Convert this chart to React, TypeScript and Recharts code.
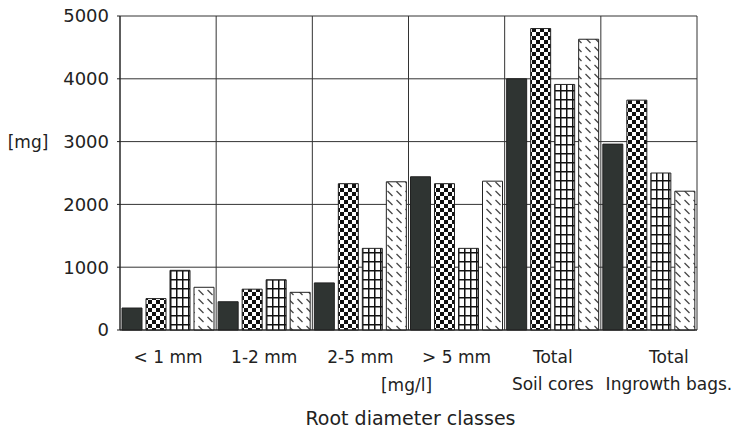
import { BarChart, Bar, XAxis, YAxis, CartesianGrid, Label } from 'recharts';

const categories = ['< 1 mm', '1-2 mm', '2-5 mm', '> 5 mm', 'Total', 'Total'];
const subLabels = ['', '', '', '', 'Soil cores', 'Ingrowth bags.'];
const solid = [350, 450, 750, 2440, 4000, 2960];
const checker = [500, 650, 2330, 2330, 4800, 3660];
const boxes = [950, 800, 1300, 1300, 3910, 2500];
const hatched = [680, 600, 2360, 2370, 4630, 2210];
const yTicks = [0, 1000, 2000, 3000, 4000, 5000];

const data = categories.map((name, i) => ({
  name,
  sub: subLabels[i],
  solid: solid[i],
  checker: checker[i],
  boxes: boxes[i],
  hatched: hatched[i],
}));

const font = '"DejaVu Sans", sans-serif';
const ink = '#222';

const CategoryTick = ({ x, y, payload, index }: any) => {
  // the last label sits a little right of its group in the original
  const dx = index === 5 ? 20 : 0;
  return (
    <g transform={`translate(${x + dx},${y})`}>
      <text x={0} y={25} textAnchor="middle" fontSize={17} fill={ink} fontFamily={font}>
        {payload.value}
      </text>
      {subLabels[index] ? (
        <text x={0} y={52} textAnchor="middle" fontSize={17} fill={ink} fontFamily={font}>
          {subLabels[index]}
        </text>
      ) : null}
    </g>
  );
};

const XTitle = ({ viewBox }: any) => {
  const cx = viewBox.x + viewBox.width / 2;
  return (
    <g fontFamily={font} fill={ink}>
      <text x={cx - 2} y={viewBox.y + 61} textAnchor="middle" fontSize={17}>
        [mg/l]
      </text>
      <text x={cx + 2} y={viewBox.y + 95} textAnchor="middle" fontSize={19}>
        Root diameter classes
      </text>
    </g>
  );
};

const YTitle = ({ viewBox }: any) => (
  <text
    x={viewBox.x + 20}
    y={viewBox.y + viewBox.height * 0.4 + 6}
    textAnchor="middle"
    fontSize={17}
    fill={ink}
    fontFamily={font}
  >
    [mg]
  </text>
);

export default function App() {
  return (
    <div style={{ marginTop: -8 }}>
      <BarChart
        width={726}
        height={436}
        data={data}
        margin={{ top: 16, right: 37, left: 0, bottom: 0 }}
        barSize={20}
        barGap={4}
      >
        <defs>
          <pattern id="checker" width="8" height="8" patternUnits="userSpaceOnUse">
            <rect width="8" height="8" fill="#fff" />
            <rect x="0" y="0" width="4" height="4" fill="#111" />
            <rect x="4" y="4" width="4" height="4" fill="#111" />
          </pattern>
          <pattern id="boxes" width="6" height="9" patternUnits="userSpaceOnUse">
            <rect width="6" height="9" fill="#fff" />
            <line x1="0.75" y1="0" x2="0.75" y2="9" stroke="#111" strokeWidth="1.5" />
            <line x1="0" y1="0.75" x2="6" y2="0.75" stroke="#111" strokeWidth="1.5" />
          </pattern>
          <pattern id="hatch" width="9" height="9" patternUnits="userSpaceOnUse">
            <rect width="9" height="9" fill="#fff" />
            <line x1="1.5" y1="2" x2="6.5" y2="7" stroke="#444" strokeWidth="1.2" />
          </pattern>
        </defs>
        <CartesianGrid
          stroke="#333"
          strokeWidth={1}
          verticalCoordinatesGenerator={({ offset }: any) =>
            [...categories.map((_, i) => offset.left + (offset.width * i) / categories.length), offset.left + offset.width]
          }
        />
        <XAxis
          dataKey="name"
          interval={0}
          height={106}
          tickLine={false}
          axisLine={{ stroke: ink }}
          tick={<CategoryTick />}
        >
          <Label content={<XTitle />} />
        </XAxis>
        <YAxis
          width={112}
          domain={[0, 5000]}
          ticks={yTicks}
          interval={0}
          tickSize={3}
          tickMargin={8}
          axisLine={{ stroke: ink }}
          tickLine={{ stroke: ink }}
          tick={{ fontSize: 18, fill: ink, fontFamily: font }}
        >
          <Label content={<YTitle />} />
        </YAxis>
        <Bar dataKey="solid" fill="#2f3432" stroke={ink} strokeWidth={1} isAnimationActive={false} />
        <Bar dataKey="checker" fill="url(#checker)" stroke={ink} strokeWidth={1} isAnimationActive={false} />
        <Bar dataKey="boxes" fill="url(#boxes)" stroke={ink} strokeWidth={1} isAnimationActive={false} />
        <Bar dataKey="hatched" fill="url(#hatch)" stroke={ink} strokeWidth={1} isAnimationActive={false} />
      </BarChart>
    </div>
  );
}
